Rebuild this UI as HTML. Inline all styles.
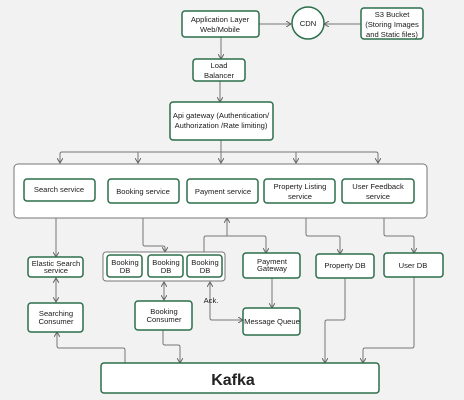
<!DOCTYPE html>
<html><head><style>
html,body{margin:0;padding:0;background:#f2f2f2;}
svg{display:block;}
text{font-family:"Liberation Sans",sans-serif;fill:#1a1a1a;}
</style></head><body>
<svg width="464" height="400" viewBox="0 0 464 400" xmlns="http://www.w3.org/2000/svg">
<defs>
<marker id="a" markerWidth="6" markerHeight="6" refX="5" refY="3" orient="auto" markerUnits="userSpaceOnUse">
<path d="M0,0 L5,3 L0,6" fill="none" stroke="#666" stroke-width="1"/></marker>
<marker id="s" markerWidth="6" markerHeight="6" refX="1" refY="3" orient="auto" markerUnits="userSpaceOnUse">
<path d="M6,0 L1,3 L6,6" fill="none" stroke="#666" stroke-width="1"/></marker>
</defs>
<rect width="464" height="400" fill="#f2f2f2"/>
<g fill="none" stroke="#777" stroke-width="1">
<line x1="259" y1="24" x2="291" y2="24" marker-end="url(#a)"/>
<line x1="361" y1="24" x2="324" y2="24" marker-end="url(#a)"/>
<line x1="221" y1="37" x2="221" y2="59" marker-end="url(#a)"/>
<line x1="220" y1="81" x2="220" y2="102" marker-end="url(#a)"/>
<line x1="221" y1="140" x2="221" y2="152"/>
<path d="M60,163 V154 Q60,152 62,152 H376 Q378,152 378,154 V163"/>
<line x1="138" y1="152" x2="138" y2="163" marker-end="url(#a)"/>
<line x1="221" y1="152" x2="221" y2="163" marker-end="url(#a)"/>
<line x1="296" y1="152" x2="296" y2="163" marker-end="url(#a)"/>
<line x1="60" y1="156" x2="60" y2="163" marker-end="url(#a)"/>
<line x1="378" y1="156" x2="378" y2="163" marker-end="url(#a)"/>
<line x1="56" y1="218" x2="56" y2="257" marker-end="url(#a)"/>
<path d="M143,218 V244 Q143,246 145,246 H163 Q165,246 165,248 V252" marker-end="url(#a)"/>
<path d="M204,252 V238 Q204,236 206,236 H227 V218" marker-end="url(#a)"/>
<path d="M227,236 H264 Q266,236 266,238 V253" marker-end="url(#a)"/>
<path d="M306,218 V234 Q306,236 308,236 H338 Q340,236 340,238 V254" marker-end="url(#a)"/>
<path d="M384,218 V234 Q384,236 386,236 H412 Q414,236 414,238 V253" marker-end="url(#a)"/>
<line x1="56" y1="278" x2="56" y2="302" marker-start="url(#s)" marker-end="url(#a)"/>
<line x1="164" y1="282" x2="164" y2="300" marker-start="url(#s)" marker-end="url(#a)"/>
<path d="M210,282 V318 Q210,320 212,320 H243" marker-start="url(#s)" marker-end="url(#a)"/>
<line x1="272" y1="278" x2="272" y2="308" marker-end="url(#a)"/>
<path d="M163,330 V343 Q163,345 165,345 H178 Q180,345 180,347 V363" marker-end="url(#a)"/>
<path d="M125,363 V350 Q125,348 123,348 H59 Q57,348 57,346 V332" marker-end="url(#a)"/>
<path d="M345,278 V318 Q345,320 343,320 H327 Q325,320 325,322 V363" marker-end="url(#a)"/>
<path d="M414,277 V346 Q414,348 412,348 H365 Q363,348 363,350 V363" marker-end="url(#a)"/>
<line x1="142" y1="266" x2="148" y2="266" stroke-dasharray="1.5,1.5"/>
<line x1="183" y1="266" x2="187" y2="266" stroke-dasharray="1.5,1.5"/>
</g>
<g fill="#fff" stroke="#2b6e4a" stroke-width="1.5">
<rect x="182" y="11" width="77" height="26" rx="3"/>
<circle cx="308" cy="23" r="16"/>
<rect x="361" y="8" width="62" height="31" rx="3"/>
<rect x="193" y="59" width="52" height="22" rx="3"/>
<rect x="170" y="102" width="103" height="38" rx="3"/>
</g>
<rect x="14" y="164" width="413" height="54" rx="4" fill="#fff" stroke="#777" stroke-width="1"/>
<rect x="103" y="252" width="122" height="29" rx="3" fill="#fff" stroke="#777" stroke-width="1"/>
<g fill="#fff" stroke="#2b6e4a" stroke-width="1.5">
<rect x="24" y="179" width="71" height="22" rx="3"/>
<rect x="108" y="179" width="71" height="24" rx="3"/>
<rect x="187" y="179" width="71" height="24" rx="3"/>
<rect x="264" y="179" width="71" height="24" rx="3"/>
<rect x="342" y="179" width="72" height="24" rx="3"/>
<rect x="28" y="257" width="55" height="20" rx="3"/>
<rect x="107" y="255" width="35" height="22" rx="3"/>
<rect x="148" y="255" width="35" height="22" rx="3"/>
<rect x="187" y="255" width="35" height="22" rx="3"/>
<rect x="243" y="253" width="57" height="25" rx="3"/>
<rect x="316" y="254" width="58" height="24" rx="3"/>
<rect x="384" y="253" width="59" height="24" rx="3"/>
<rect x="28" y="303" width="55" height="29" rx="3"/>
<rect x="135" y="301" width="57" height="29" rx="3"/>
<rect x="243" y="308" width="57" height="27" rx="3"/>
<rect x="101" y="363" width="278" height="30" rx="3"/>
</g>
<g font-size="7.6" text-anchor="middle">
<text x="220" y="22">Application Layer</text><text x="220" y="32">Web/Mobile</text>
<text x="308" y="26">CDN</text>
<text x="392" y="17">S3 Bucket</text><text x="392" y="27">(Storing Images</text><text x="392" y="37">and Static files)</text>
<text x="219" y="68">Load</text><text x="219" y="78">Balancer</text>
<text x="221" y="118">Api gateway (Authentication/</text><text x="221" y="128">Authorization /Rate limiting)</text>
<text x="59" y="192">Search service</text>
<text x="143" y="194">Booking service</text>
<text x="223" y="194">Payment service</text>
<text x="300" y="189">Property Listing</text><text x="300" y="199">service</text>
<text x="378" y="189">User Feedback</text><text x="378" y="199">service</text>
<text x="56" y="266">Elastic Search</text><text x="56" y="273">service</text>
<text x="125" y="265">Booking</text><text x="125" y="273">DB</text>
<text x="166" y="265">Booking</text><text x="166" y="273">DB</text>
<text x="205" y="265">Booking</text><text x="205" y="273">DB</text>
<text x="272" y="264">Payment</text><text x="272" y="271">Gateway</text>
<text x="345" y="268">Property DB</text>
<text x="413" y="268">User DB</text>
<text x="56" y="316">Searching</text><text x="56" y="324">Consumer</text>
<text x="164" y="314">Booking</text><text x="164" y="322">Consumer</text>
<text x="272" y="324">Message Queue</text>
<text x="211" y="303">Ack.</text>
<text x="233" y="385" font-size="16" font-weight="bold" style="fill:#222">Kafka</text>
</g>
</svg>
</body></html>
